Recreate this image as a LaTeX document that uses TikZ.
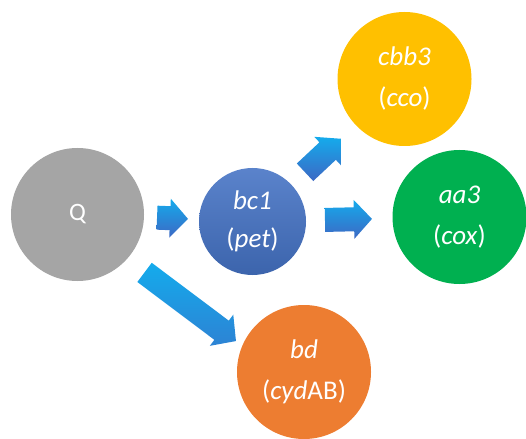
\documentclass[tikz,border=0pt]{standalone}
\usepackage{fontspec}
\setmainfont{Carlito}
\usetikzlibrary{calc}

\definecolor{quinone}{HTML}{A5A5A5}
\definecolor{bcblue}{HTML}{4472C4}
\definecolor{cbbyellow}{HTML}{FFC000}
\definecolor{aagreen}{HTML}{00B050}
\definecolor{bdorange}{HTML}{ED7D31}
\definecolor{arrowtop}{HTML}{14ABEC}
\definecolor{arrowbot}{HTML}{3D68C4}

\tikzset{
	enzyme/.style={circle, minimum size=134pt, inner sep=0pt, text=white, align=center, font=\fontsize{27}{41}\selectfont},
	arrowshade/.style={top color=arrowtop, bottom color=arrowbot},
}

% block arrow from #2 to #3, tip at #3
\newcommand{\fatarrow}[3][]{%
	\coordinate (fa-h) at ($(#3)!18pt!(#2)$);
	\shade[arrowshade, #1]
		($(#2)!12pt!90:(#3)$) --
		($(fa-h)!12pt!90:(#3)$) --
		($(fa-h)!19.5pt!90:(#3)$) --
		(#3) --
		($(fa-h)!19.5pt!-90:(#3)$) --
		($(fa-h)!12pt!-90:(#3)$) --
		($(#2)!12pt!-90:(#3)$) --
		cycle;
}

\begin{document}
\begin{tikzpicture}[x=1pt, y=-1pt]
	\useasboundingbox (0,0) rectangle (526,438);

	% quinone pool
	\node[enzyme, fill=quinone, minimum size=133pt, font=\fontsize{25}{30}\selectfont] (q) at (77.5,214.5) [] {Q};

	% bc1 complex
	\node[enzyme, minimum size=107pt, top color=bcblue!88!white, bottom color=bcblue!88!black, font=\fontsize{27}{38}\selectfont] (bc1) at (252.5,221.5) [] {\textit{bc1}\\(\textit{pet})};

	% terminal oxidases
	\node[enzyme, fill=cbbyellow] (cbb3) at (404.5,79) [] {\textit{cbb3}\\(\textit{cco})};
	\node[enzyme, fill=aagreen] (aa3) at (459.5,217) [] {\textit{aa3}\\(\textit{cox})};
	\node[enzyme, fill=bdorange] (bd) at (304,372) [] {\textit{bd}\\(\textit{cyd}AB)};

	% arrow ends
	\coordinate (qs) at ($(q)!79.6pt!(bc1)$);
	\coordinate (qt) at ($(q)!110.6pt!(bc1)$);
	\coordinate (as) at ($(bc1)!72.5pt!(aa3)$);
	\coordinate (at) at ($(bc1)!119.5pt!(aa3)$);
	\coordinate (cs) at ($(bc1)!72pt!(cbb3)$);
	\coordinate (ct) at ($(bc1)!121pt!(cbb3)$);
	\coordinate (ds) at ($(q)!88.6pt!-6:(bd)$);
	\coordinate (dt) at ($(q)!202.8pt!-3.8:(bd)$);

	\fatarrow{qs}{qt}
	\fatarrow{as}{at}
	\fatarrow{cs}{ct}
	\fatarrow[bottom color=arrowbot!60!arrowtop]{ds}{dt}
\end{tikzpicture}
\end{document}
